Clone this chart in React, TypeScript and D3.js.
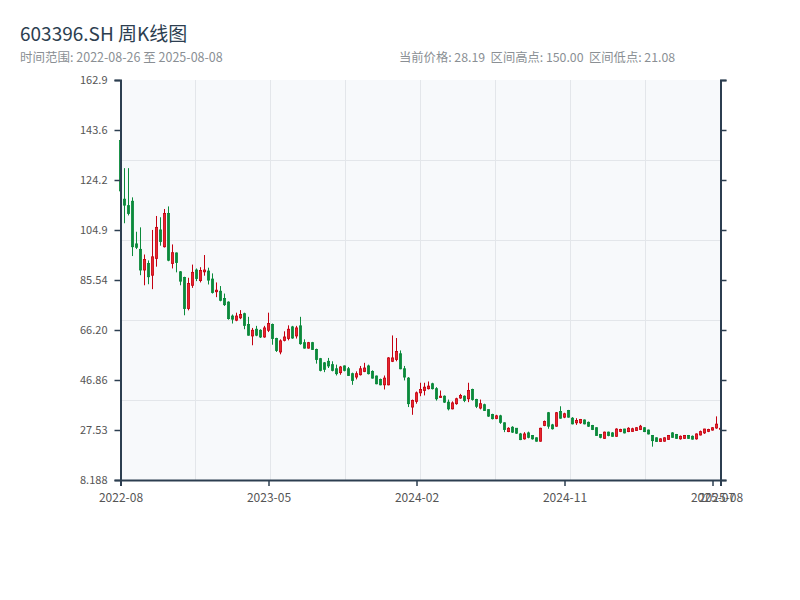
import React, { useEffect, useRef } from "react";
import * as d3 from "d3";

// weekly bars (Friday close), weeks with no trading day are skipped
const firstWeek = new Date(2022, 7, 26);
const lastWeek = new Date(2025, 7, 8);
const closedWeeks = ["2022-10-07", "2023-01-27", "2023-10-06", "2024-02-16"];

const opens = [
  139.5, 116.8, 114.3, 116.0, 99.5, 97.4, 89.4, 91.9, 87.4, 93.9, 104.9, 98.4, 111.3, 91.9, 96.0, 88.7,
  86.5, 74.5, 83.5, 89.4, 85.3, 88.7, 89.0, 85.9, 81.0, 81.2, 78.4, 77.0, 71.6, 70.0, 70.9, 72.5,
  68.3, 63.9, 66.5, 66.1, 63.5, 66.1, 68.3, 62.9, 57.7, 62.2, 62.9, 67.4, 63.9, 67.8, 61.3, 59.2,
  61.3, 58.7, 55.1, 53.5, 54.1, 52.8, 51.2, 49.7, 52.3, 51.2, 49.3, 48.0, 48.9, 50.2, 52.3, 50.2,
  48.4, 47.1, 45.0, 45.0, 54.1, 54.8, 57.0, 51.2, 47.6, 36.4, 38.6, 41.9, 42.8, 43.5, 45.4, 43.5,
  40.1, 40.6, 38.3, 35.7, 37.7, 39.9, 40.6, 39.6, 43.2, 39.3, 36.0, 37.3, 35.4, 33.5, 32.0, 33.0,
  30.3, 26.9, 28.6, 28.2, 26.0, 24.1, 26.4, 25.4, 24.5, 23.2, 29.3, 34.2, 29.5, 29.0, 34.7, 32.5,
  35.1, 32.1, 30.3, 30.3, 31.4, 30.5, 29.3, 28.4, 25.8, 24.3, 26.7, 26.4, 25.1, 27.0, 27.9, 26.9,
  27.0, 27.3, 27.7, 28.4, 27.5, 25.4, 24.5, 23.1, 23.2, 23.9, 26.4, 25.8, 24.1, 24.3, 25.4, 25.1,
  24.1, 25.6, 26.4, 27.0, 27.5, 28.3, 27.95,
];
const highs = [
  150.0, 128.8, 128.8, 117.5, 104.2, 105.9, 95.4, 93.1, 104.9, 110.3, 109.8, 113.0, 114.0, 99.3, 96.2, 89.0,
  86.8, 86.4, 91.5, 90.0, 90.5, 95.2, 90.3, 88.1, 84.6, 83.2, 80.3, 77.3, 72.2, 72.9, 73.9, 72.9,
  71.3, 67.0, 67.8, 66.5, 67.8, 72.9, 68.7, 63.2, 62.6, 65.7, 68.0, 67.8, 67.8, 71.3, 62.6, 61.6,
  61.6, 59.0, 55.4, 53.8, 55.4, 54.1, 52.8, 52.3, 52.5, 51.9, 49.7, 50.2, 52.3, 53.5, 52.8, 50.6,
  48.6, 47.4, 48.6, 55.7, 64.1, 63.1, 58.3, 52.3, 48.0, 39.3, 42.4, 45.8, 45.8, 46.3, 45.8, 44.1,
  42.8, 40.9, 39.3, 38.6, 40.0, 41.5, 40.9, 45.8, 43.5, 39.6, 39.3, 37.7, 35.5, 33.8, 33.4, 33.4,
  30.5, 28.6, 29.0, 28.2, 26.4, 26.7, 26.9, 25.6, 24.7, 28.4, 31.2, 34.5, 29.9, 34.5, 36.7, 34.2,
  35.3, 32.5, 32.1, 31.8, 31.6, 30.8, 29.5, 28.6, 26.0, 26.9, 26.9, 26.7, 28.2, 28.0, 28.0, 28.6,
  28.4, 28.6, 29.5, 28.6, 27.7, 25.6, 24.7, 24.3, 24.7, 25.6, 26.7, 26.0, 25.4, 25.6, 25.6, 25.4,
  26.2, 27.3, 28.0, 28.0, 28.6, 32.8, 29.3,
];
const lows = [
  118.5, 107.5, 110.5, 94.8, 97.5, 87.4, 83.5, 83.9, 82.0, 90.7, 98.8, 98.1, 92.8, 90.0, 88.5, 83.5,
  71.9, 73.8, 82.5, 85.1, 84.6, 87.2, 83.8, 80.3, 78.9, 77.3, 75.5, 70.2, 68.7, 69.6, 70.4, 66.5,
  64.0, 60.3, 63.8, 63.1, 63.2, 65.4, 60.5, 57.7, 56.8, 61.8, 62.2, 62.8, 62.9, 60.5, 59.0, 59.0,
  58.5, 53.2, 50.2, 49.9, 51.5, 50.2, 48.6, 48.9, 50.2, 48.4, 45.0, 47.1, 48.6, 49.9, 49.0, 47.4,
  45.2, 44.8, 43.2, 44.8, 53.8, 54.1, 51.0, 46.7, 36.4, 33.4, 37.7, 40.6, 40.9, 43.2, 43.2, 38.9,
  39.9, 38.0, 35.1, 35.5, 37.3, 39.6, 38.3, 38.3, 38.9, 36.0, 35.5, 34.9, 32.6, 31.6, 31.7, 29.9,
  26.7, 26.7, 26.4, 26.0, 23.6, 23.8, 24.3, 23.8, 23.0, 23.0, 29.0, 28.0, 27.7, 28.8, 31.9, 32.1,
  32.3, 29.7, 29.5, 29.9, 29.7, 28.7, 27.5, 25.2, 24.3, 24.1, 25.1, 24.9, 24.9, 26.7, 26.2, 26.7,
  26.9, 27.2, 27.5, 26.7, 25.8, 21.08, 22.9, 23.0, 23.0, 23.8, 24.5, 24.1, 23.8, 24.1, 24.1, 23.8,
  23.8, 25.4, 26.0, 26.7, 27.3, 28.0, 27.8,
];
const closes = [
  120.0, 114.5, 111.3, 98.4, 98.2, 89.4, 93.5, 86.8, 94.5, 105.9, 100.4, 111.3, 93.2, 96.1, 92.3, 85.1,
  74.5, 84.2, 88.5, 86.1, 89.2, 89.4, 85.5, 80.7, 81.6, 77.7, 76.0, 70.6, 70.4, 71.6, 72.2, 68.0,
  64.2, 66.1, 64.2, 63.5, 67.0, 68.7, 62.9, 58.3, 62.0, 63.5, 66.5, 63.1, 67.0, 60.9, 59.2, 61.3,
  58.7, 54.8, 50.6, 51.0, 52.3, 50.6, 49.3, 51.9, 50.6, 48.6, 46.7, 49.3, 51.2, 51.5, 49.3, 47.6,
  45.4, 45.0, 47.6, 55.4, 55.4, 57.9, 51.2, 48.0, 37.7, 38.9, 41.9, 43.2, 44.1, 44.5, 43.5, 39.6,
  40.6, 38.3, 35.7, 38.0, 39.6, 40.9, 38.9, 42.8, 39.3, 36.7, 37.7, 35.1, 32.9, 31.9, 33.0, 30.5,
  27.7, 28.2, 26.7, 26.3, 23.8, 26.0, 24.7, 24.1, 23.2, 28.2, 30.8, 29.0, 28.0, 34.2, 32.1, 33.8,
  32.5, 29.9, 31.2, 31.6, 29.9, 29.0, 27.7, 25.4, 24.7, 26.7, 25.4, 25.1, 27.9, 27.7, 26.4, 28.2,
  28.0, 28.4, 29.0, 26.9, 26.0, 23.4, 23.1, 24.1, 24.5, 25.4, 24.7, 24.3, 25.1, 25.4, 24.3, 24.0,
  26.0, 26.9, 27.9, 27.7, 28.4, 29.8, 28.19,
];

const code = "603396.SH";
const fmtDay = d3.timeFormat("%Y-%m-%d");
const fmtMonth = d3.timeFormat("%Y-%m");
const font = "'Noto Sans CJK SC', 'Noto Sans', sans-serif";

const UP = "#e8262d";
const UP_EDGE = "#c40010";
const DOWN = "#0b8a3b";
const AXIS = "#2c3e50";

export default function App() {
  const ref = useRef<SVGSVGElement | null>(null);

  useEffect(() => {
    const width = 800;
    const height = 600;
    const m = { top: 80, right: 80, bottom: 120, left: 120 };
    const iw = width - m.left - m.right;
    const ih = height - m.top - m.bottom;

    const dates = d3
      .timeFriday.range(firstWeek, d3.timeDay.offset(lastWeek, 1))
      .filter((d) => !closedWeeks.includes(fmtDay(d)));
    const bars = dates.map((date, i) => ({
      date,
      open: opens[i],
      high: highs[i],
      low: lows[i],
      close: closes[i],
    }));

    const hi = d3.max(highs)!;
    const lo = d3.min(lows)!;
    const pad = (hi - lo) * 0.1;

    const svg = d3.select(ref.current);
    svg.selectAll("*").remove();
    svg.attr("width", width).attr("height", height).attr("font-family", font);

    const x = d3
      .scalePoint<Date>()
      .domain(dates)
      .range([m.left + 0.5, m.left + iw + 0.5]);
    const y = d3
      .scaleLinear()
      .domain([lo - pad, hi + pad])
      .range([m.top + ih, m.top]);

    // header
    svg
      .append("text")
      .attr("x", 20)
      .attr("y", 41)
      .attr("font-size", 19)
      .attr("fill", AXIS)
      .text(`${code} 周K线图`);
    svg
      .append("text")
      .attr("x", 20)
      .attr("y", 62)
      .attr("font-size", 12.5)
      .attr("fill", "#8a8f94")
      .text(`时间范围: ${fmtDay(dates[0])} 至 ${fmtDay(dates[dates.length - 1])}`);
    svg
      .append("text")
      .attr("x", 399)
      .attr("y", 62)
      .attr("font-size", 12.3)
      .attr("fill", "#8a8f94")
      .attr("xml:space", "preserve")
      .text(
        `当前价格: ${closes[closes.length - 1].toFixed(2)}  区间高点: ${hi.toFixed(2)}  区间低点: ${lo.toFixed(2)}`
      );

    // plot background + grid
    svg
      .append("rect")
      .attr("x", m.left)
      .attr("y", m.top)
      .attr("width", iw)
      .attr("height", ih)
      .attr("fill", "#f7f9fb");

    const grid = svg.append("g").attr("stroke", "#e3e6ea").attr("stroke-width", 1);
    d3.range(1, 8).forEach((k) => {
      const gx = m.left + (iw / 8) * k + 0.5;
      grid.append("line").attr("x1", gx).attr("x2", gx).attr("y1", m.top).attr("y2", m.top + ih);
    });
    d3.range(1, 5).forEach((k) => {
      const gy = m.top + (ih / 5) * k + 0.5;
      grid.append("line").attr("y1", gy).attr("y2", gy).attr("x1", m.left).attr("x2", m.left + iw);
    });

    // candles
    const bw = 2.2;
    const c = svg
      .append("g")
      .selectAll("g")
      .data(bars)
      .enter()
      .append("g")
      .attr("transform", (d) => `translate(${x(d.date)},0)`);

    c.append("line")
      .attr("y1", (d) => y(d.high))
      .attr("y2", (d) => y(d.low))
      .attr("stroke", (d) => (d.close >= d.open ? UP_EDGE : DOWN))
      .attr("stroke-width", 1);

    c.append("rect")
      .attr("x", -bw / 2)
      .attr("width", bw)
      .attr("y", (d) => y(Math.max(d.open, d.close)))
      .attr("height", (d) => Math.max(1, Math.abs(y(d.open) - y(d.close))))
      .attr("fill", (d) => (d.close >= d.open ? UP : DOWN))
      .attr("stroke", (d) => (d.close >= d.open ? UP_EDGE : DOWN))
      .attr("stroke-width", 0.8);

    // axes
    const yTicks = d3.range(9).map((k) => lo - pad + ((hi - lo + 2 * pad) / 8) * k);
    const step = Math.floor(dates.length / 4);
    const xTicks = dates.filter((_, i) => i % step === 0 || i === dates.length - 1);

    const styleAxis = (g: d3.Selection<SVGGElement, unknown, null, undefined>, size: number) => {
      g.attr("font-family", font).attr("font-size", size);
      g.select(".domain").attr("stroke", AXIS).attr("stroke-width", 2);
      g.selectAll(".tick line").attr("stroke", AXIS).attr("stroke-width", 1.5);
      g.selectAll(".tick text").attr("fill", "#555");
    };

    svg
      .append("g")
      .attr("transform", `translate(${m.left + 0.5},0)`)
      .call(
        d3
          .axisLeft(y)
          .tickValues(yTicks)
          .tickFormat((v) => (+v).toPrecision(4))
          .tickSize(6)
          .tickPadding(7)
      )
      .call(styleAxis, 11);

    svg
      .append("g")
      .attr("transform", `translate(${m.left + iw + 0.5},0)`)
      .call(d3.axisRight(y).tickValues(yTicks).tickFormat(() => "").tickSize(6))
      .call(styleAxis, 11);

    svg
      .append("g")
      .attr("transform", `translate(0,${m.top + ih})`)
      .call(
        d3
          .axisBottom(x)
          .tickValues(xTicks)
          .tickFormat((d) => fmtMonth(d as Date))
          .tickSize(6)
          .tickPadding(7)
      )
      .call(styleAxis, 12);
  }, []);

  return (
    <svg
      ref={ref}
      style={{ position: "absolute", left: 0, top: 0, background: "#fff" }}
    ></svg>
  );
}
